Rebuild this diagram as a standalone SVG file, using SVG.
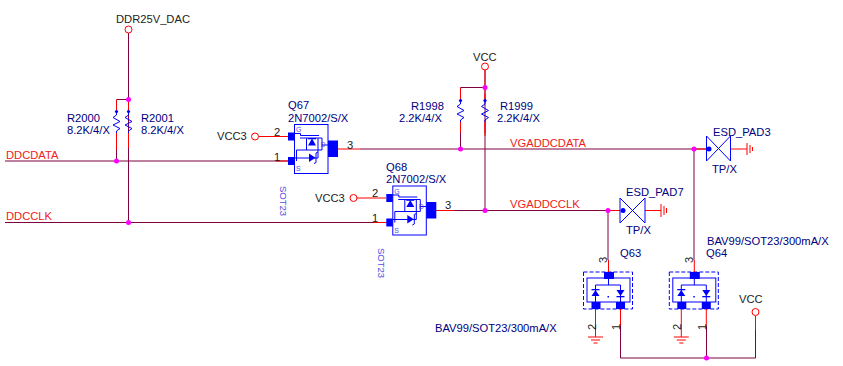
<svg xmlns="http://www.w3.org/2000/svg" width="843" height="366" viewBox="0 0 843 366">
<style>
text{font-family:"Liberation Sans",Arial,sans-serif;font-size:11.2px;fill:#000080}
.k{fill:#222}
.r{fill:#f02020}
.s{fill:#5050e0;font-size:9.500px}
.g{fill:#5050e0;font-size:7px}
.w{fill:none;stroke:#800040;stroke-width:1}
.p{fill:none;stroke:#f00;stroke-width:1}
.b{fill:none;stroke:#00f;stroke-width:1}
.f{fill:#00f;stroke:none}
.j{fill:#f0f;stroke:none}
.o{fill:#fff;stroke:#f00;stroke-width:1}
</style>
<defs>
<g id="res">
<path class="p" d="M0 -16V-10M0 12V23"/>
<path class="b" d="M0 -10V-6L-3.500 -3.500L3.500 0.500L-3.500 4L3.500 7.500L0 10V12"/>
<circle class="f" cx="0" cy="-9.500" r="1.600"/>
</g>
<g id="fet">
<rect class="b" x="294.500" y="124.500" width="33.500" height="49"/>
<rect class="f" x="288" y="132.500" width="6.500" height="8"/>
<rect class="f" x="288" y="157" width="6.500" height="8"/>
<rect class="f" x="328" y="140.500" width="10" height="16.500"/>
<path class="b" d="M294.500 133.500H300.500V135.500H319M300 138H322V150H296.500V161M306.500 138V150M318 138V150M294.500 158H318V150M322 145H328"/>
<path class="f" d="M312 138.500L308 145.500H316Z"/>
<rect class="f" x="308" y="138" width="8" height="1.300"/>
<path class="f" d="M309 153.500V162L315.500 157.800Z"/>
<path class="b" d="M316 153V162.500M316 153L318 152M316 162.500L314 163.500"/>
<text x="296" y="132" class="g">G</text>
<text x="296" y="171" class="g">S</text>
<text x="320.500" y="147" class="g">D</text>
</g>
<g id="dual">
<rect fill="none" stroke="#00f" stroke-dasharray="4 2" x="583.500" y="272" width="49" height="37"/>
<rect class="b" x="587" y="278" width="43" height="24"/>
<rect class="f" x="604" y="272" width="10" height="7"/>
<rect class="f" x="591.500" y="302" width="9" height="7"/>
<rect class="f" x="616" y="302" width="9" height="7"/>
<path class="b" d="M608.500 279V285M595.500 302V285H620.500V302"/>
<path class="f" d="M595.500 290L591.500 296H599.500ZM620.500 296L616.500 290H624.500Z"/>
<rect class="f" x="591.500" y="289" width="8" height="1.300"/>
<rect class="f" x="616.500" y="296" width="8" height="1.300"/>
<rect class="f" x="607.500" y="296" width="1.500" height="1.500"/>
<path class="p" d="M595.500 309V337M608.500 260V272M620.500 309V326"/>
<path class="p" d="M588 337H603M591 340H600M593.500 343H597.500"/>
<text transform="translate(607,263) rotate(-90)" class="k">3</text>
<text transform="translate(595.500,330) rotate(-90)" class="k">2</text>
<text transform="translate(620,330) rotate(-90)" class="k">1</text>
</g>
</defs>

<g id="connectors">
<path class="w" d="M128.500 33V222.500M116.500 99.500H128.500M116.500 150V161M5 161H288M5 222.500H387"/>
<path class="p" d="M116.500 99.500V115M128.500 99.500V115M116.500 137V150M128.500 137V148"/>
<path class="p" d="M259 136.500H288M276 161H288M357 198H386M374 222.500H386M338 149H360M436 210.500H454"/>
<path class="w" d="M360 149H707M454 210.500H620M485 70V210.500M460.500 87.500H485M460.500 125V149"/>
<path class="p" d="M485 70V87M460.500 87.500V100M485 87.500V100M485 120V136"/>
<path class="w" d="M694 149V260M608 210.500V260M620.500 326V358H755.500V316M706.500 326V358"/>
<path class="p" d="M694 149H707M731 149H747M645 210.500H661M755.500 316V330M608.500 210.500H620"/>
<path class="p" d="M747 143V155M750 145V153M752.500 147V151M661 204V217M664 206V215M666.500 208V213"/>
</g>

<g id="DDR25V_DAC"><circle class="o" cx="128.500" cy="29.500" r="3.500"/><text x="116" y="23" class="k">DDR25V_DAC</text></g>
<g id="R2000"><use href="#res" x="116.500" y="121"/><text x="67" y="122">R2000</text><text x="67" y="134">8.2K/4/X</text></g>
<g id="R2001"><use href="#res" x="128.500" y="121"/><text x="141" y="122">R2001</text><text x="141" y="134">8.2K/4/X</text></g>
<g id="R1998"><use href="#res" x="460.500" y="110"/><text x="411" y="110">R1998</text><text x="399" y="122">2.2K/4/X</text></g>
<g id="R1999"><use href="#res" x="485" y="110"/><text x="500" y="110">R1999</text><text x="497" y="122">2.2K/4/X</text></g>
<g id="VCC_top"><circle class="o" cx="485" cy="66.500" r="3.500"/><text x="473" y="61" class="k">VCC</text></g>
<g id="DDCDATA"><text x="6" y="159" class="r">DDCDATA</text></g>
<g id="DDCCLK"><text x="6" y="220" class="r">DDCCLK</text></g>
<g id="VGADDCDATA"><text x="510" y="147" class="r">VGADDCDATA</text></g>
<g id="VGADDCCLK"><text x="510" y="208" class="r">VGADDCCLK</text></g>

<g id="Q67"><use href="#fet"/>
<circle class="o" cx="255" cy="136.500" r="3.500"/><text x="217" y="140" class="k">VCC3</text>
<text x="288" y="109">Q67</text><text x="288" y="122">2N7002/S/X</text>
<text x="274" y="136" class="k">2</text><text x="274" y="161" class="k">1</text><text x="347" y="149" class="k">3</text>
<text transform="translate(280,186) rotate(90)" class="s">SOT23</text></g>
<g id="Q68"><use href="#fet" x="98.300" y="61.500"/>
<circle class="o" cx="353.500" cy="198" r="3.500"/><text x="315" y="202" class="k">VCC3</text>
<text x="386" y="171">Q68</text><text x="386" y="183">2N7002/S/X</text>
<text x="372" y="197" class="k">2</text><text x="372" y="222" class="k">1</text><text x="445" y="209" class="k">3</text>
<text transform="translate(378,248) rotate(90)" class="s">SOT23</text></g>

<g id="ESD_PAD3"><path class="b" d="M706.500 136V161L730.500 136V161Z"/><circle class="f" cx="709" cy="149" r="2.500"/><text x="713" y="136">ESD_PAD3</text><text x="712" y="173">TP/X</text></g>
<g id="ESD_PAD7"><path class="b" d="M620 198V223L645 198V223Z"/><circle class="f" cx="623" cy="210.500" r="2.500"/><text x="626" y="196">ESD_PAD7</text><text x="626" y="234">TP/X</text></g>

<g id="Q63"><use href="#dual"/><text x="620" y="257">Q63</text><text x="435" y="332">BAV99/SOT23/300mA/X</text></g>
<g id="Q64"><use href="#dual" x="85.800"/><text x="706" y="257">Q64</text><text x="707" y="245">BAV99/SOT23/300mA/X</text></g>
<g id="VCC_bottom"><circle class="o" cx="755.500" cy="312" r="3.500"/><text x="739" y="303" class="k">VCC</text></g>

<g id="junctions">
<circle class="j" cx="128.500" cy="99.500" r="2.500"/><circle class="j" cx="116.500" cy="161" r="2.500"/><circle class="j" cx="128.500" cy="222.500" r="2.500"/>
<circle class="j" cx="485" cy="87.500" r="2.500"/><circle class="j" cx="460.500" cy="149" r="2.500"/><circle class="j" cx="485" cy="210.500" r="2.500"/>
<circle class="j" cx="694" cy="149" r="2.500"/><circle class="j" cx="608" cy="210.500" r="2.500"/><circle class="j" cx="706.500" cy="358" r="2.500"/>
</g>
</svg>
